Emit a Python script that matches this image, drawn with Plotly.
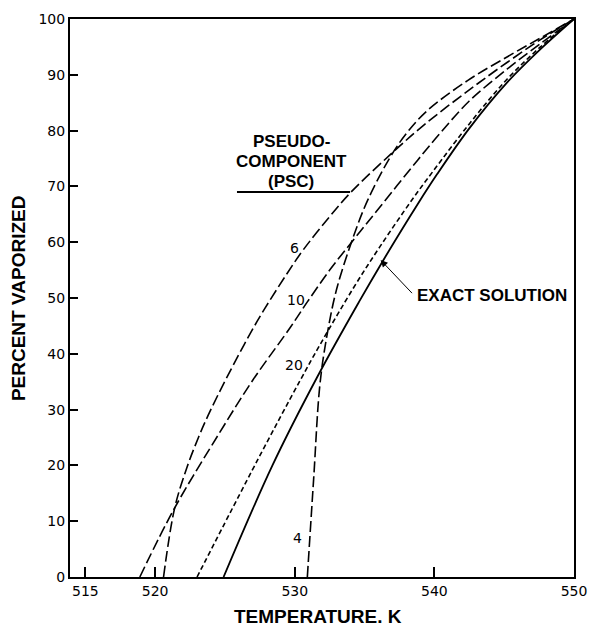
import plotly.graph_objects as go

# ---- data ----
exact_T = [524.9, 528.4, 531.6, 534.6, 536.3, 538.8, 540.2, 542.5, 545.2, 547.6, 550]
exact_V = [0, 20.0, 35.8, 49.3, 56.6, 66.8, 72.2, 80.4, 88.6, 94.6, 100]

psc20_T = [523.0, 527.3, 530.4, 531.8, 534.2, 536.1, 538.4, 539.9, 542.5, 545.2, 547.6, 550]
psc20_V = [0, 20.8, 35.3, 41.6, 51.8, 59.2, 67.6, 72.7, 81.2, 89.2, 95.0, 100]

psc10_T = [518.9, 521.4, 524.6, 527.0, 529.7, 530.9, 532.5, 534.2, 536.0, 538.8, 540.4, 542.5, 545.2, 547.6, 550]
psc10_V = [0, 12.4, 25.8, 35.3, 44.8, 49.3, 55.0, 60.4, 66.0, 74.7, 79.5, 85.3, 91.0, 95.6, 100]

psc6_T = [520.6, 521.4, 522.3, 523.1, 523.8, 525.1, 527.3, 529.45, 530.6, 532.5, 534.0, 536.8, 539.2, 542.5, 545.2, 547.6, 550]
psc6_V = [0, 12.4, 19.8, 25.0, 29.0, 35.6, 45.8, 54.4, 58.6, 64.6, 68.9, 75.6, 80.9, 87.3, 92.2, 96.3, 100]

psc4_T = [530.9, 531.35, 531.8, 532.3, 533.0, 534.2, 535.2, 536.8, 538.0, 539.5, 542.4, 545.2, 547.6, 550]
psc4_V = [0, 17.5, 34.5, 43.2, 51.6, 61.0, 67.4, 75.1, 79.5, 83.6, 89.0, 93.2, 96.6, 100]

x_ticks = [515, 520, 530, 540, 550]
y_ticks = [0, 10, 20, 30, 40, 50, 60, 70, 80, 90, 100]

curve_labels = ["6", "10", "20", "4"]
curve_label_T = [529.95, 530.1, 529.95, 530.2]
curve_label_V = [59.0, 49.6, 38.0, 7.0]

LONG = "11px,4px"
SHORT = "5px,3px"

fig = go.Figure()

def add(T, V, dash, width=1.6):
    fig.add_trace(go.Scatter(x=T, y=V, mode="lines",
                             line=dict(color="black", width=width, dash=dash,
                                       shape="spline", smoothing=1.0),
                             showlegend=False, hoverinfo="skip"))

add(exact_T, exact_V, "solid", 1.8)
add(psc20_T, psc20_V, SHORT)
add(psc10_T, psc10_V, LONG)
add(psc6_T, psc6_V, LONG)
add(psc4_T, psc4_V, LONG)

ann = []
for t, x, y in zip(curve_labels, curve_label_T, curve_label_V):
    ann.append(dict(x=x, y=y, text=t, showarrow=False, xanchor="center", yanchor="middle",
                    font=dict(family="DejaVu Sans", size=14, color="black")))

bold = dict(family="Liberation Sans", size=17, color="black")
for txt, yv in zip(["<b>PSEUDO-</b>", "<b>COMPONENT</b>", "<b>(PSC)</b>"], [78.0, 74.4, 70.8]):
    ann.append(dict(x=529.75, y=yv, text=txt, showarrow=False, xanchor="center",
                    yanchor="middle", font=bold))

ann.append(dict(x=538.6, y=50.5, text="<b>EXACT SOLUTION</b>", showarrow=False,
                xanchor="left", yanchor="middle", font=bold))
ann.append(dict(x=536.15, y=56.8, ax=538.5, ay=50.6, axref="x", ayref="y",
                text="", showarrow=True, arrowhead=2, arrowsize=1.4, arrowwidth=1,
                arrowcolor="black", standoff=0))

ann.append(dict(x=0.492, y=-0.0700, xref="paper", yref="paper",
                text="<b>TEMPERATURE. K</b>", showarrow=False, xanchor="center",
                yanchor="middle", font=dict(family="Liberation Sans", size=19, color="black")))
ann.append(dict(x=-0.103, y=0.5, xref="paper", yref="paper",
                text="<b>PERCENT VAPORIZED</b>", showarrow=False, textangle=-90,
                xanchor="center", yanchor="middle",
                font=dict(family="Liberation Sans", size=19, color="black")))

fig.add_shape(type="line", x0=525.86, x1=533.96, y0=69.0, y1=69.0,
              line=dict(color="black", width=2))

fig.update_layout(
    width=590, height=626,
    margin=dict(l=70, r=16, t=19, b=49, autoexpand=False),
    paper_bgcolor="white", plot_bgcolor="white",
    annotations=ann,
    xaxis=dict(range=[513.9, 550], tickvals=x_ticks, ticktext=[str(v) for v in x_ticks],
               ticks="inside", ticklen=10, tickwidth=1.5, tickcolor="black",
               showline=True, linecolor="black", linewidth=2, mirror=True,
               showgrid=False, zeroline=False, automargin=False,
               tickfont=dict(family="DejaVu Sans", size=14, color="black")),
    yaxis=dict(range=[0, 100], tickvals=y_ticks, ticks="inside", ticklen=8,
               tickwidth=1.5, tickcolor="black",
               showline=True, linecolor="black", linewidth=2, mirror=True,
               showgrid=False, zeroline=False, automargin=False,
               tickfont=dict(family="DejaVu Sans", size=14, color="black")),
)

fig.write_html("out.html")
